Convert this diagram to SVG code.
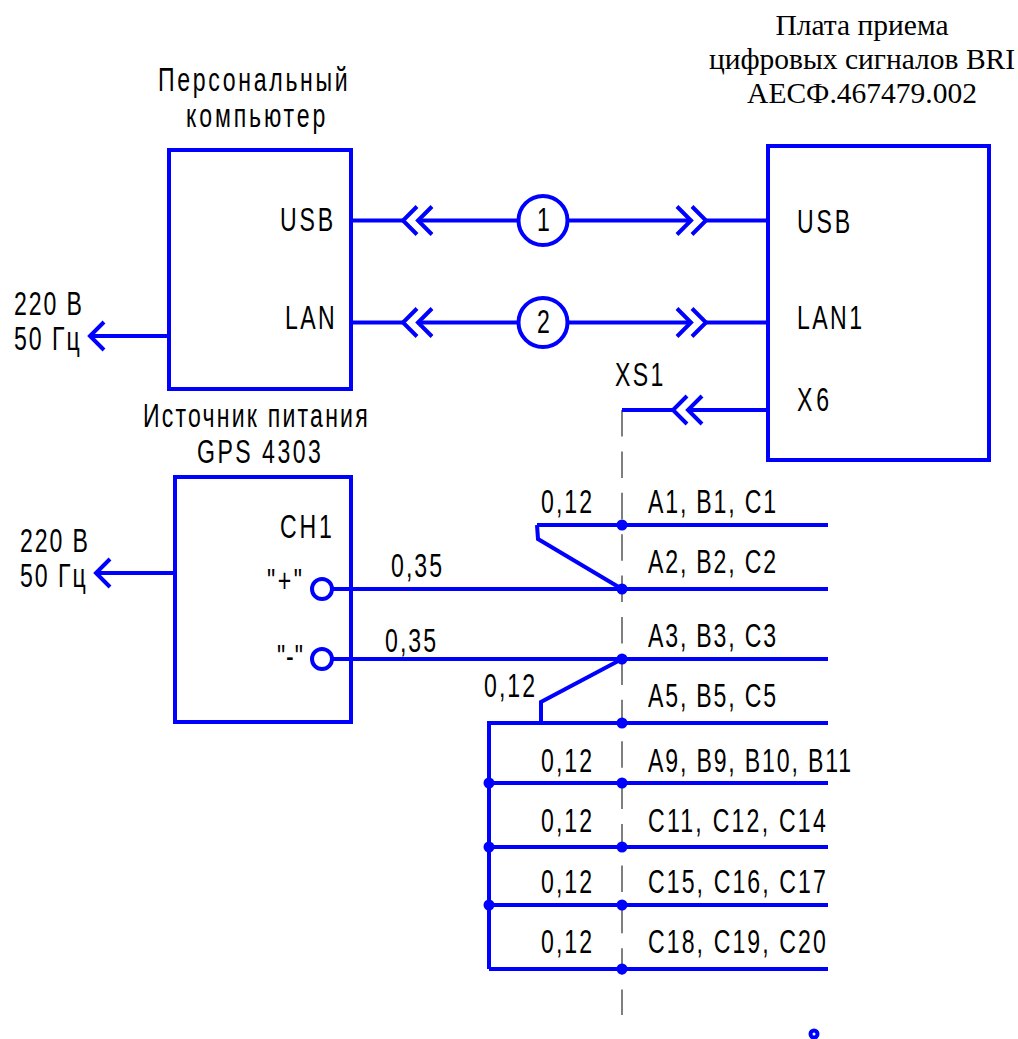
<svg xmlns="http://www.w3.org/2000/svg" width="1018" height="1039" viewBox="0 0 1018 1039">
<style>
.w{fill:none;stroke:#0000ff;stroke-width:4}
.c{fill:#fff;stroke:#0000ff;stroke-width:4}
.d{fill:#0000ff}
.a{fill:none;stroke:#555;stroke-width:1.5;stroke-dasharray:26.5 14.9}
text{fill:#000}
.t{font-family:"Liberation Sans",Arial,sans-serif;font-size:33px}
.s{font-family:"Liberation Serif","Times New Roman",serif;font-size:29.500px;text-anchor:middle}
</style>
<defs>
<path id="dl" class="w" d="M14 -14L0 0L14 14M29 -14L15 0L29 14"/>
<path id="dr" class="w" d="M-14 -14L0 0L-14 14M-29 -14L-15 0L-29 14"/>
</defs>
<g id="pc">
<rect class="w" x="169" y="150" width="182" height="239"/>
<text class="t" transform="translate(158 91) scale(.7 1)" textLength="271" lengthAdjust="spacing">Персональный</text>
<text class="t" transform="translate(186 127) scale(.7 1)" textLength="199" lengthAdjust="spacing">компьютер</text>
<text class="t" transform="translate(280 231) scale(.7 1)" textLength="76" lengthAdjust="spacing">USB</text>
<text class="t" transform="translate(285 329) scale(.7 1)" textLength="71" lengthAdjust="spacing">LAN</text>
</g>
<g id="bri">
<rect class="w" x="768" y="146" width="221" height="314"/>
<text class="s" x="862" y="35">Плата приема</text>
<text class="s" x="862" y="69">цифровых сигналов BRI</text>
<text class="s" x="862" y="103">АЕСФ.467479.002</text>
<text class="t" transform="translate(797 233) scale(.7 1)" textLength="76" lengthAdjust="spacing">USB</text>
<text class="t" transform="translate(797 329) scale(.7 1)" textLength="93" lengthAdjust="spacing">LAN1</text>
<text class="t" transform="translate(797 411) scale(.7 1)" textLength="46" lengthAdjust="spacing">X6</text>
</g>
<g id="psu">
<rect class="w" x="175" y="477" width="176" height="245"/>
<text class="t" transform="translate(143 427) scale(.7 1)" textLength="321" lengthAdjust="spacing">Источник питания</text>
<text class="t" transform="translate(197 463) scale(.7 1)" textLength="177" lengthAdjust="spacing">GPS 4303</text>
<text class="t" transform="translate(280 538) scale(.7 1)" textLength="74" lengthAdjust="spacing">CH1</text>
<text class="t" transform="translate(267 592) scale(.7 1)" textLength="50" lengthAdjust="spacing">"+"</text>
<text class="t" transform="translate(277 668) scale(.7 1)" textLength="37" lengthAdjust="spacing">"-"</text>
</g>
<g id="labels">
<text class="t" transform="translate(14 315) scale(.7 1)" textLength="97" lengthAdjust="spacing">220 В</text>
<text class="t" transform="translate(14 350) scale(.7 1)" textLength="94" lengthAdjust="spacing">50 Гц</text>
<text class="t" transform="translate(20 552) scale(.7 1)" textLength="97" lengthAdjust="spacing">220 В</text>
<text class="t" transform="translate(20 587) scale(.7 1)" textLength="94" lengthAdjust="spacing">50 Гц</text>
<text class="t" transform="translate(615 386) scale(.7 1)" textLength="69" lengthAdjust="spacing">XS1</text>
<text class="t" transform="translate(541 513) scale(.7 1)" textLength="73" lengthAdjust="spacing">0,12</text>
<text class="t" transform="translate(391 577) scale(.7 1)" textLength="73" lengthAdjust="spacing">0,35</text>
<text class="t" transform="translate(385 652) scale(.7 1)" textLength="73" lengthAdjust="spacing">0,35</text>
<text class="t" transform="translate(484 697) scale(.7 1)" textLength="73" lengthAdjust="spacing">0,12</text>
<text class="t" transform="translate(541 772) scale(.7 1)" textLength="73" lengthAdjust="spacing">0,12</text>
<text class="t" transform="translate(541 832) scale(.7 1)" textLength="73" lengthAdjust="spacing">0,12</text>
<text class="t" transform="translate(541 893) scale(.7 1)" textLength="73" lengthAdjust="spacing">0,12</text>
<text class="t" transform="translate(541 953) scale(.7 1)" textLength="73" lengthAdjust="spacing">0,12</text>
<text class="t" transform="translate(648 513) scale(.7 1)" textLength="183" lengthAdjust="spacing">A1, B1, C1</text>
<text class="t" transform="translate(648 573) scale(.7 1)" textLength="183" lengthAdjust="spacing">A2, B2, C2</text>
<text class="t" transform="translate(648 647) scale(.7 1)" textLength="183" lengthAdjust="spacing">A3, B3, C3</text>
<text class="t" transform="translate(648 707) scale(.7 1)" textLength="183" lengthAdjust="spacing">A5, B5, C5</text>
<text class="t" transform="translate(648 772) scale(.7 1)" textLength="290" lengthAdjust="spacing">A9, B9, B10, B11</text>
<text class="t" transform="translate(648 832) scale(.7 1)" textLength="254" lengthAdjust="spacing">C11, C12, C14</text>
<text class="t" transform="translate(648 893) scale(.7 1)" textLength="254" lengthAdjust="spacing">C15, C16, C17</text>
<text class="t" transform="translate(648 953) scale(.7 1)" textLength="254" lengthAdjust="spacing">C18, C19, C20</text>
</g>
<g id="connectors">
<path class="a" d="M622 410V1015"/>
<path class="w" d="M351 220.500H403M418 220.500H691M706 220.500H768M351 322.500H403M418 322.500H691M706 322.500H768M169 336H91M175 573H96M622 410H673M688 410H768"/>
<path class="w" d="M104 322L90 336L104 350M110 559L96 573L110 587"/>
<use href="#dl" x="403" y="220.500"/><use href="#dl" x="403" y="322.500"/>
<use href="#dr" x="706" y="220.500"/><use href="#dr" x="706" y="322.500"/>
<use href="#dl" x="673" y="410"/>
<path class="w" d="M537 525H828M537 525L538 539L622 589M333 589H828M333 659H828M541 723V702L622 659M489 969V723H828M489 783H828M489 847H828M489 905H828M489 969H828"/>
<g class="d">
<circle cx="622" cy="525" r="5.500"/><circle cx="622" cy="589" r="5.500"/><circle cx="622" cy="659" r="5.500"/><circle cx="622" cy="723" r="5.500"/><circle cx="622" cy="783" r="5.500"/><circle cx="622" cy="847" r="5.500"/><circle cx="622" cy="905" r="5.500"/><circle cx="622" cy="969" r="5.500"/>
<circle cx="489" cy="783" r="5.500"/><circle cx="489" cy="847" r="5.500"/><circle cx="489" cy="905" r="5.500"/>
</g>
<circle class="c" cx="322" cy="589" r="10"/>
<circle class="c" cx="322" cy="659" r="10"/>
</g>
<g id="cable1"><circle class="c" cx="543" cy="220.500" r="24.500"/><text class="t" transform="translate(537 231) scale(.7 1)">1</text></g>
<g id="cable2"><circle class="c" cx="543" cy="322.500" r="24.500"/><text class="t" transform="translate(537 333) scale(.7 1)">2</text></g>
<circle cx="814" cy="1034" r="3.500" fill="none" stroke="#0000ff" stroke-width="4"/>
</svg>
